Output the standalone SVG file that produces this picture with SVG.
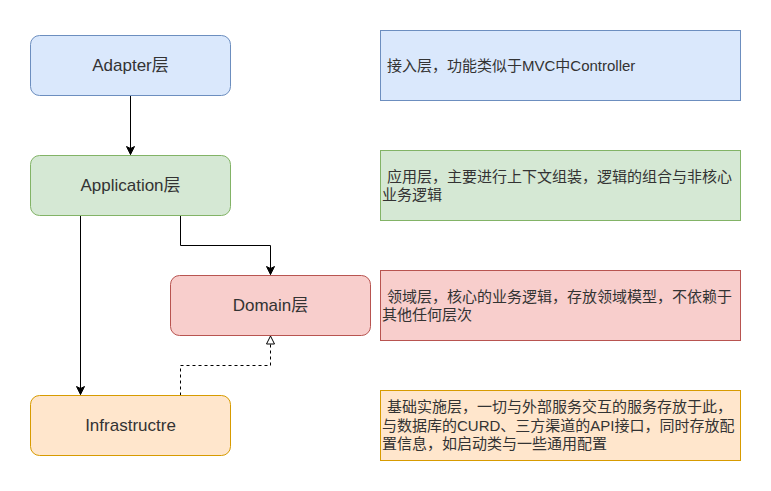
<svg xmlns="http://www.w3.org/2000/svg" width="771" height="491" viewBox="0 0 771 491">
<style>
text{font-family:"Liberation Sans","Noto Sans CJK SC",sans-serif;fill:#333333}
.lbl{font-size:17px;text-anchor:middle}
.desc{font-size:15px}
.node{stroke-width:1}
.edge{fill:none;stroke:#000;stroke-width:1}
</style>
<defs>
<marker id="arr" markerUnits="userSpaceOnUse" markerWidth="10" markerHeight="10" refX="9" refY="5" orient="auto" overflow="visible">
<path d="M9,5 L1,1 L3,5 L1,9 Z" fill="#000" stroke="#000" stroke-width="1"/>
</marker>
<marker id="open" markerUnits="userSpaceOnUse" markerWidth="10" markerHeight="10" refX="9" refY="5" orient="auto" overflow="visible">
<path d="M9,5 L1,1 L1,9 Z" fill="#fff" stroke="#000" stroke-width="1"/>
</marker>
</defs>
<rect width="771" height="491" fill="#fff"/>
<g id="connectors">
<path class="edge" d="M130.5,95.5 V154.5" marker-end="url(#arr)"/>
<path class="edge" d="M180.5,215.5 V245.5 H270.5 V274.5" marker-end="url(#arr)"/>
<path class="edge" d="M80.5,215.5 V394.5" marker-end="url(#arr)"/>
<path class="edge" d="M180.5,395.5 V365.5 H270.5 V336" stroke-dasharray="3 3" marker-end="url(#open)"/>
</g>
<g id="adapter">
<rect class="node" x="30.5" y="35.5" width="200" height="60" rx="9" fill="#dae8fc" stroke="#6c8ebf"/>
<text class="lbl" x="130.5" y="71">Adapter层</text>
</g>
<g id="application">
<rect class="node" x="30.5" y="155.5" width="200" height="60" rx="9" fill="#d5e8d4" stroke="#82b366"/>
<text class="lbl" x="130.5" y="191">Application层</text>
</g>
<g id="domain">
<rect class="node" x="170.5" y="275.5" width="200" height="60" rx="9" fill="#f8cecc" stroke="#b85450"/>
<text class="lbl" x="270.5" y="311">Domain层</text>
</g>
<g id="infrastructure">
<rect class="node" x="30.5" y="395.5" width="200" height="60" rx="9" fill="#ffe6cc" stroke="#d79b00"/>
<text class="lbl" x="130.5" y="431">Infrastructre</text>
</g>
<g id="desc-adapter">
<rect x="380.5" y="30.5" width="360" height="70" fill="#dae8fc" stroke="#6c8ebf"/>
<text class="desc" x="387" y="71">接入层，功能类似于MVC中Controller</text>
</g>
<g id="desc-application">
<rect x="380.5" y="150.5" width="360" height="70" fill="#d5e8d4" stroke="#82b366"/>
<text class="desc" x="387" y="182">应用层，主要进行上下文组装，逻辑的组合与非核心</text>
<text class="desc" x="382" y="200">业务逻辑</text>
</g>
<g id="desc-domain">
<rect x="380.5" y="270.5" width="360" height="70" fill="#f8cecc" stroke="#b85450"/>
<text class="desc" x="387" y="302">领域层，核心的业务逻辑，存放领域模型，不依赖于</text>
<text class="desc" x="382" y="320">其他任何层次</text>
</g>
<g id="desc-infrastructure">
<rect x="380.5" y="390.5" width="360" height="70" fill="#ffe6cc" stroke="#d79b00"/>
<text class="desc" x="387" y="412">基础实施层，一切与外部服务交互的服务存放于此，</text>
<text class="desc" x="382" y="431">与数据库的CURD、三方渠道的API接口，同时存放配</text>
<text class="desc" x="382" y="449">置信息，如启动类与一些通用配置</text>
</g>
</svg>
